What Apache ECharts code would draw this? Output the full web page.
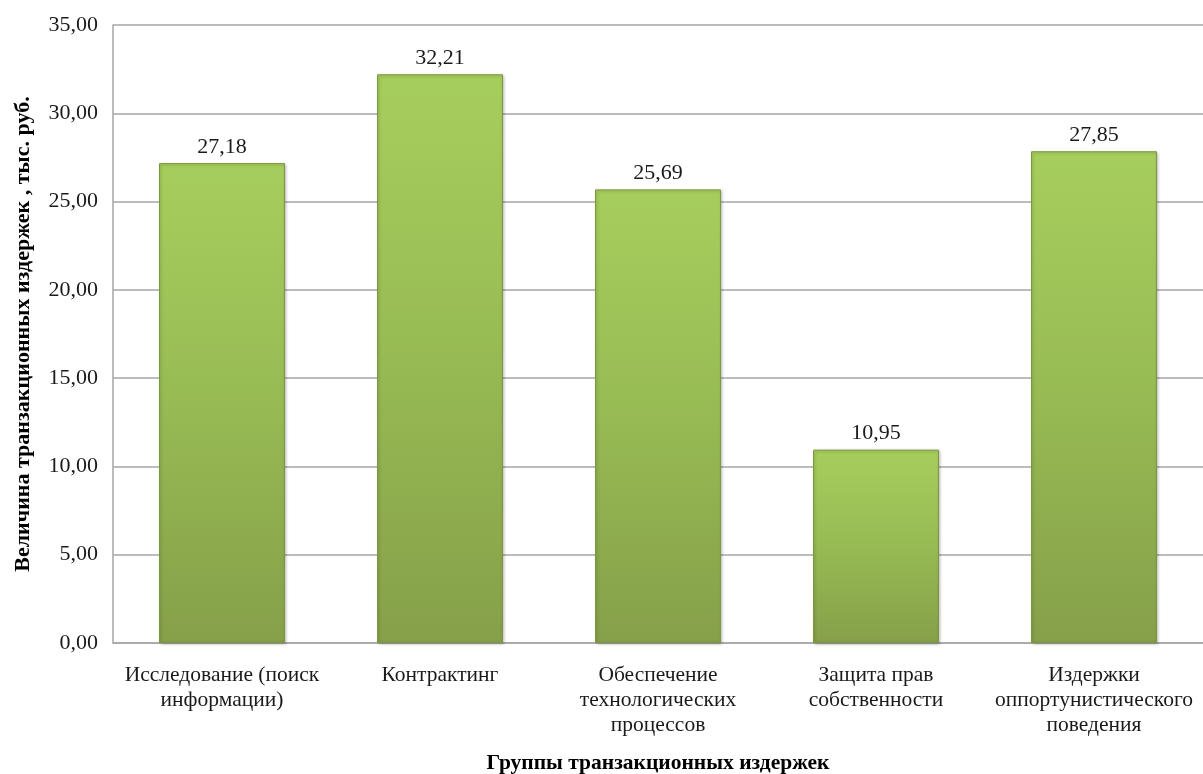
<!DOCTYPE html>
<html><head><meta charset="utf-8">
<script src="https://cdn.jsdelivr.net/npm/echarts@6/dist/echarts.min.js"></script>
<style>html,body{margin:0;padding:0;background:#fff}#c{width:1203px;height:774px}</style>
</head><body><div id="c"></div>
<script>
const categories = ["Исследование (поиск\nинформации)", "Контрактинг", "Обеспечение\nтехнологических\nпроцессов", "Защита прав\nсобственности", "Издержки\nоппортунистического\nповедения"];
const values = [27.18, 32.21, 25.69, 10.95, 27.85];
const yTicks = {min: 0, max: 35, interval: 5};
const fmt = v => Number(v).toFixed(2).replace('.', ',');
const font = "'Liberation Serif', 'DejaVu Serif', serif";
const chart = echarts.init(document.getElementById('c'));
chart.setOption({
  animation: false,
  grid: {left: 113, right: 0, top: 25, bottom: 131, outerBoundsMode: 'none', containLabel: false},
  xAxis: {
    type: 'category', data: categories,
    name: 'Группы транзакционных издержек', nameLocation: 'middle', nameGap: 109,
    nameTextStyle: {fontFamily: font, fontSize: 21.5, fontWeight: 'bold', color: '#000'},
    axisLine: {lineStyle: {color: '#a6a6a6', width: 1.5}},
    axisTick: {show: false},
    axisLabel: {interval: 0, margin: 20, fontFamily: font, fontSize: 21.5, lineHeight: 25, color: '#1a1a1a'}
  },
  yAxis: {
    type: 'value', min: yTicks.min, max: yTicks.max, interval: yTicks.interval,
    name: 'Величина транзакционных издержек , тыс. руб.', nameLocation: 'middle', nameGap: 79,
    nameTextStyle: {fontFamily: font, fontSize: 22, fontWeight: 'bold', color: '#000'},
    axisLine: {show: true, lineStyle: {color: '#a6a6a6', width: 1.5}},
    axisTick: {show: false},
    splitLine: {lineStyle: {color: '#a6a6a6', width: 1.5}},
    axisLabel: {formatter: fmt, margin: 15, fontFamily: font, fontSize: 22, color: '#1a1a1a'}
  },
  series: [{
    type: 'bar', data: values, barWidth: 126,
    itemStyle: {
      color: new echarts.graphic.LinearGradient(0, 0, 0, 1, [
        {offset: 0, color: '#a6ce5c'},
        {offset: 0.45, color: '#99bd55'},
        {offset: 1, color: '#86a049'}
      ]),
      borderColor: '#7d9640', borderWidth: 1,
      shadowColor: 'rgba(0,0,0,0.25)', shadowBlur: 3, shadowOffsetX: 1, shadowOffsetY: 1
    },
    label: {show: true, position: 'top', distance: 5, formatter: p => fmt(p.value), fontFamily: font, fontSize: 22, color: '#1a1a1a'}
  }]
});
</script></body></html>
